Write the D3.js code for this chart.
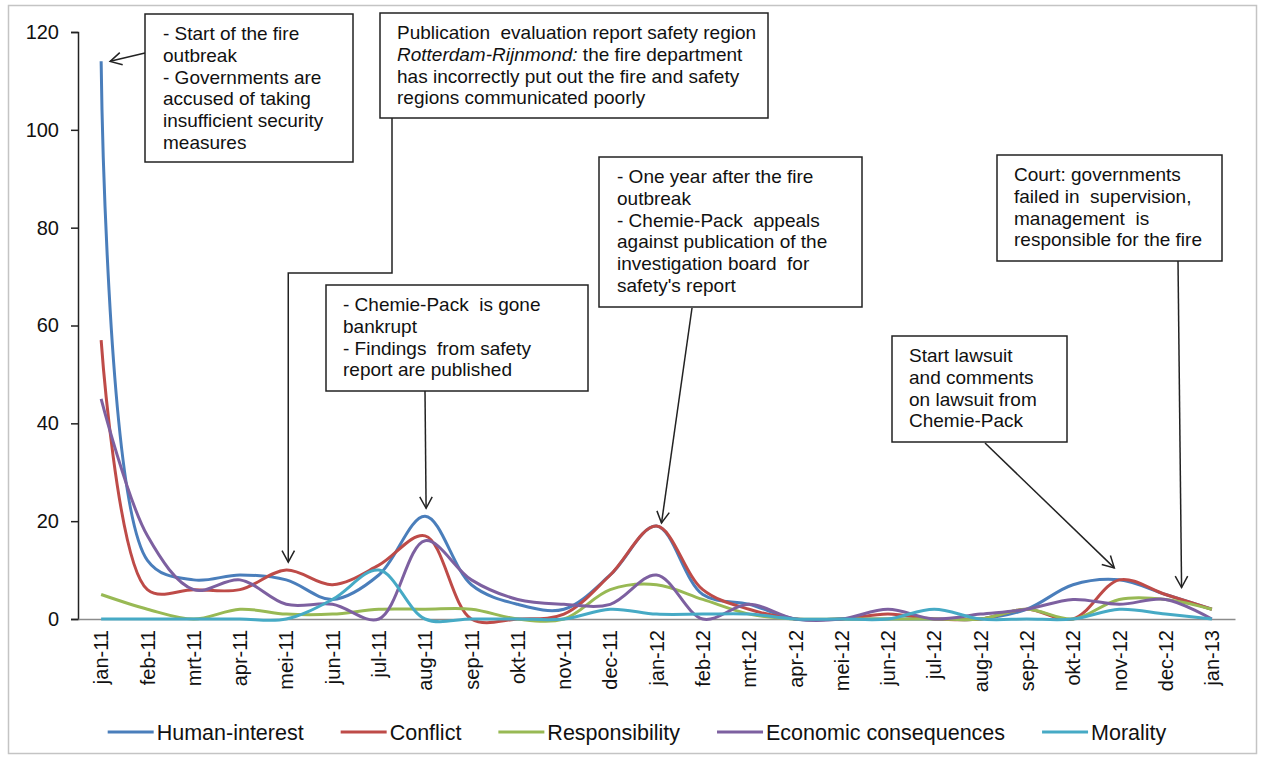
<!DOCTYPE html>
<html>
<head>
<meta charset="utf-8">
<script src="https://cdn.jsdelivr.net/npm/d3@7"></script>
<style>
  body { margin: 0; background: #fff; }
  svg { font-family: "Liberation Sans", Arial, sans-serif; }
</style>
</head>
<body>
<div id="chart"></div>
<script>
const months = ['jan-11','feb-11','mrt-11','apr-11','mei-11','jun-11','jul-11','aug-11','sep-11','okt-11','nov-11','dec-11',
  'jan-12','feb-12','mrt-12','apr-12','mei-12','jun-12','jul-12','aug-12','sep-12','okt-12','nov-12','dec-12','jan-13']

const humanInterest  = [114,12,8,9,8,4,9,21,7,3,2,9,19,5,3,0,0,0,0,0,2,7,8,5,2]
const conflict       = [57,6,6,6,10,7,11,17,0,0,1,9,19,6,2,0,0,1,0,0,2,0,8,5,2]
const responsibility = [5,2,0,2,1,1,2,2,2,0,0,6,7,4,1,0,0,0,0,0,2,0,4,4,2]
const economic       = [45,17,6,8,3,3,0,16,8,4,3,3,9,0,3,0,0,2,0,1,2,4,3,4,0]
const morality       = [0,0,0,0,0,4,10,0,0,0,0,2,1,1,1,0,0,0,2,0,0,0,2,1,0]

const seriesNames = ['Human-interest','Conflict','Responsibility','Economic consequences','Morality']
const seriesColors = ['#4a7ebb','#be4b48','#98b954','#7d60a0','#46aac5']
const seriesValues = [humanInterest, conflict, responsibility, economic, morality]

const yTicks = [0,20,40,60,80,100,120]

// annotation texts (line by line), the month/series they point at
const notes = [
  { lines: ['- Start of the fire','outbreak','- Governments are','accused of taking','insufficient security','measures'],
    month: 'jan-11', series: 0 },
  { lines: ['Publication  evaluation report safety region',
            [['Rotterdam-Rijnmond:', true], [' the fire department', false]],
            'has incorrectly put out the fire and safety','regions communicated poorly'],
    month: 'mei-11', series: 1 },
  { lines: ['- Chemie-Pack  is gone','bankrupt','- Findings  from safety','report are published'],
    month: 'aug-11', series: 0 },
  { lines: ['- One year after the fire','outbreak','- Chemie-Pack  appeals','against publication of the','investigation board  for',"safety's report"],
    month: 'jan-12', series: 1 },
  { lines: ['Court: governments','failed in  supervision,','management  is','responsible for the fire'],
    month: 'dec-12', series: 1 },
  { lines: ['Start lawsuit','and comments','on lawsuit from','Chemie-Pack'],
    month: 'nov-12', series: 0 }
]

const width = 1262, height = 762
const svg = d3.select('#chart').append('svg')
  .attr('width', width).attr('height', height)

// outer frame
svg.append('rect')
  .attr('x', 8.5).attr('y', 5.5).attr('width', 1248).attr('height', 748)
  .attr('fill', 'none').attr('stroke', '#c4c4c4').attr('stroke-width', 1.5)

const x = d3.scaleBand().domain(months).range([78, 1235])
const y = d3.scaleLinear().domain([0, 120]).range([619, 32])
const cx = m => x(m) + x.bandwidth() / 2

// y axis
const yAxis = svg.append('g')
  .attr('transform', 'translate(78,0)')
  .call(d3.axisLeft(y).tickValues(yTicks).tickSize(7).tickPadding(12))
yAxis.select('.domain').attr('stroke', '#222').attr('stroke-width', 1.5)
yAxis.selectAll('.tick line').attr('stroke', '#222').attr('stroke-width', 1.5)
yAxis.selectAll('text').attr('font-size', 20).attr('fill', '#111')
  .style('font-family', '"Liberation Sans", Arial, sans-serif')

// x axis
const xAxis = svg.append('g')
  .attr('transform', 'translate(0,619)')
  .call(d3.axisBottom(x).tickSize(0).tickSizeOuter(0))
xAxis.select('.domain').attr('stroke', '#8c8c8c').attr('stroke-width', 1.5)
xAxis.selectAll('text')
  .attr('font-size', 20).attr('fill', '#111')
  .style('font-family', '"Liberation Sans", Arial, sans-serif')
  .attr('transform', 'rotate(-90)')
  .attr('text-anchor', 'end')
  .attr('x', -11).attr('y', 0).attr('dy', '0.36em')

// lines (centripetal Catmull-Rom keeps the smoothing close to Excel's, little overshoot)
const line = d3.line()
  .x((d, i) => cx(months[i]))
  .y(d => y(d))
  .curve(d3.curveCatmullRom.alpha(0.5))

svg.append('g').selectAll('path')
  .data(seriesValues)
  .join('path')
  .attr('d', line)
  .attr('fill', 'none')
  .attr('stroke', (d, i) => seriesColors[i])
  .attr('stroke-width', 3)
  .attr('stroke-linejoin', 'round')

// annotations
const boxes = [
  { x: 145, y: 14, w: 208, h: 148, tx: 163 },
  { x: 380, y: 13, w: 388, h: 105, tx: 397 },
  { x: 326, y: 285, w: 262, h: 106, tx: 343 },
  { x: 599, y: 157, w: 263, h: 150, tx: 617 },
  { x: 997, y: 155, w: 225, h: 106, tx: 1014 },
  { x: 892, y: 336, w: 175, h: 106, tx: 909 }
]

const ann = svg.append('g')

function arrowHead(x1, y1, x2, y2) {
  const a = Math.atan2(y2 - y1, x2 - x1)
  const len = 13, spread = 0.5
  const p = [
    [x2 - len * Math.cos(a - spread), y2 - len * Math.sin(a - spread)],
    [x2, y2],
    [x2 - len * Math.cos(a + spread), y2 - len * Math.sin(a + spread)]
  ]
  ann.append('path').attr('d', d3.line()(p))
    .attr('fill', 'none').attr('stroke', '#222').attr('stroke-width', 1.5)
}

function connector(pts) {
  ann.append('path').attr('d', d3.line()(pts))
    .attr('fill', 'none').attr('stroke', '#222').attr('stroke-width', 1.5)
  const n = pts.length
  arrowHead(pts[n - 2][0], pts[n - 2][1], pts[n - 1][0], pts[n - 1][1])
}

const target = n => [cx(n.month), y(seriesValues[n.series][months.indexOf(n.month)])]

// arrows, drawn toward the data point they mark
let t = target(notes[0])
connector([[145, 53], [t[0] + 9, t[1]]])
t = target(notes[1])
connector([[392, 118], [392, 273], [t[0] + 2, 273], [t[0] + 2, t[1] - 8]])
t = target(notes[2])
connector([[425, 391], [t[0] + 1, t[1] - 8]])
t = target(notes[3])
connector([[692, 308], [t[0] + 5, t[1] - 3]])
t = target(notes[4])
connector([[1178, 261], [t[0] + 16, t[1] - 7]])
t = target(notes[5])
connector([[985, 443], [t[0] - 5, t[1] - 12]])

notes.forEach((n, i) => {
  const b = boxes[i]
  ann.append('rect')
    .attr('x', b.x).attr('y', b.y).attr('width', b.w).attr('height', b.h)
    .attr('fill', '#fff').attr('stroke', '#222').attr('stroke-width', 1.5)
  n.lines.forEach((ln, j) => {
    const txt = ann.append('text')
      .attr('x', b.tx).attr('y', b.y + 20 + j * 21.8 + 6)
      .attr('font-size', 19).attr('fill', '#111')
      .style('white-space', 'pre')
    if (Array.isArray(ln)) {
      ln.forEach(([s, it]) => txt.append('tspan').attr('font-style', it ? 'italic' : 'normal').text(s))
    } else {
      txt.text(ln)
    }
  })
})

// legend
const legend = svg.append('g').attr('transform', 'translate(0,732)')
const items = legend.selectAll('g').data(seriesNames).join('g')
items.append('line')
  .attr('x1', 0).attr('x2', 46).attr('y1', 0).attr('y2', 0)
  .attr('stroke', (d, i) => seriesColors[i]).attr('stroke-width', 3)
items.append('text')
  .attr('x', 49).attr('dy', '0.36em')
  .attr('font-size', 21.5).attr('fill', '#111')
  .text(d => d)
let widths = []
items.each(function () { widths.push(49 + this.querySelector('text').getComputedTextLength()) })
const gap = 37
const total = d3.sum(widths) + gap * (widths.length - 1)
let cur = 637 - total / 2
items.attr('transform', (d, i) => {
  const pos = cur
  cur += widths[i] + gap
  return `translate(${pos},0)`
})
</script>
</body>
</html>
